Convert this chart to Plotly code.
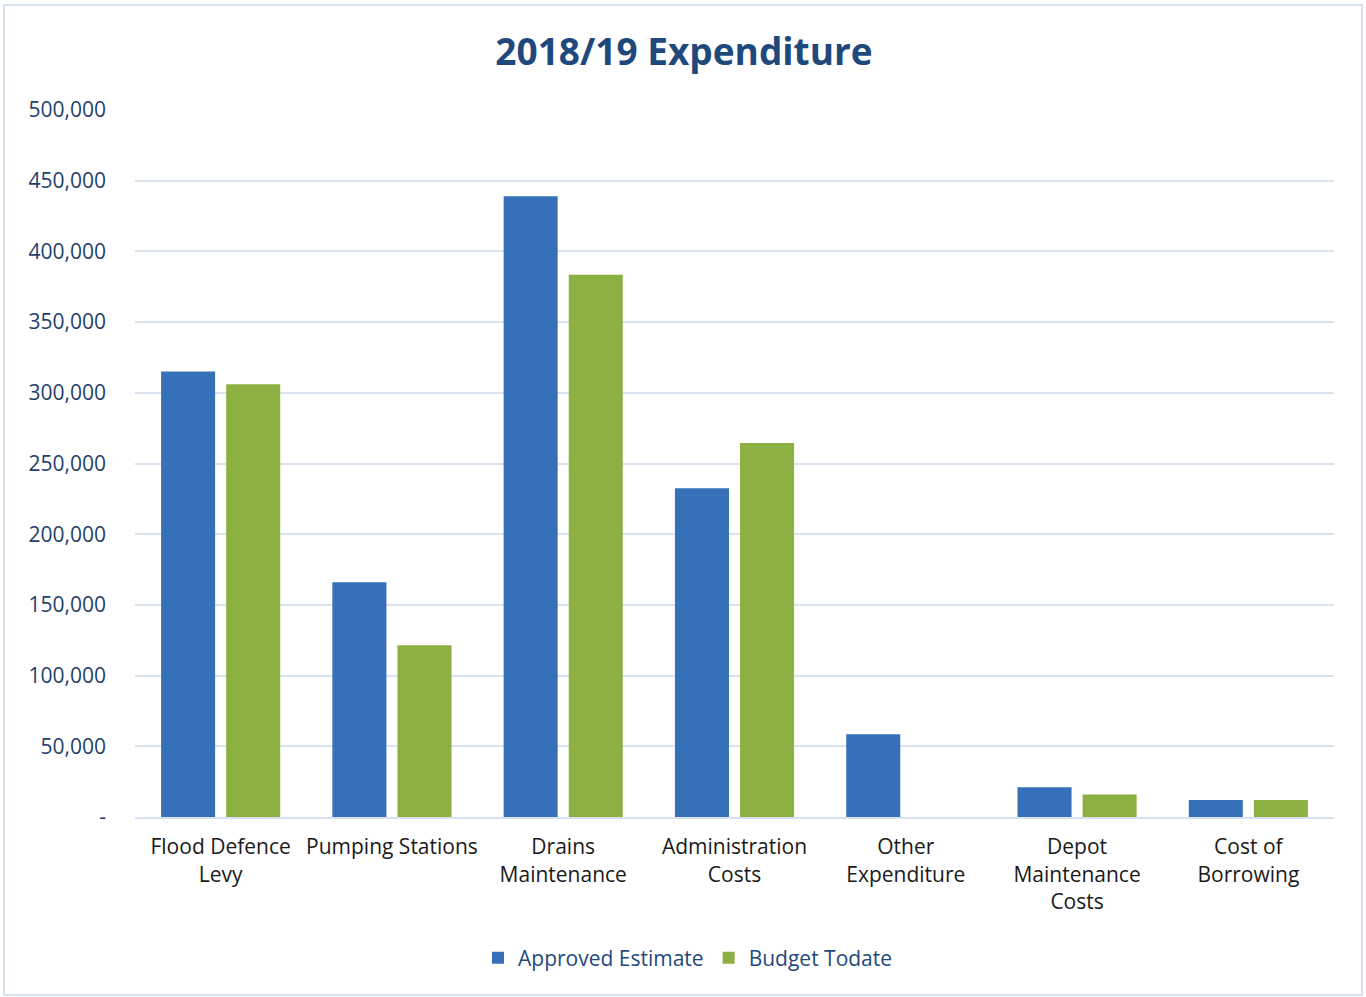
import plotly.graph_objects as go

categories = ["Flood Defence<br>Levy", "Pumping Stations", "Drains<br>Maintenance",
              "Administration<br>Costs", "Other<br>Expenditure", "Depot<br>Maintenance<br>Costs",
              "Cost of<br>Borrowing"]
approved_estimate = [315000, 166000, 439000, 232500, 58500, 21000, 12000]
budget_todate = [306000, 121500, 383500, 264500, 0, 16000, 12000]
tick_vals = [0, 50000, 100000, 150000, 200000, 250000, 300000, 350000, 400000, 450000, 500000]
tick_text = ["-", "50,000", "100,000", "150,000", "200,000", "250,000", "300,000",
             "350,000", "400,000", "450,000", "500,000"]

FONT = "Open Sans, Noto Sans, sans-serif"

fig = go.Figure()
fig.add_trace(go.Bar(name="Approved Estimate", x=categories, y=approved_estimate,
                     marker=dict(color="#3570b9", line=dict(width=0))))
fig.add_trace(go.Bar(name="Budget Todate", x=categories, y=budget_todate,
                     marker=dict(color="#8db042", line=dict(width=0))))

# chart border
px0, px1, py0, py1 = 135, 1334, 817, 110
def fx(p): return (p - px0) / (px1 - px0)
def fy(p): return (py0 - p) / (py0 - py1)
fig.add_shape(type="rect", xref="paper", yref="paper",
              x0=fx(4), x1=fx(1362), y0=fy(995), y1=fy(5),
              line=dict(color="#d6e2f2", width=2), fillcolor="rgba(0,0,0,0)", layer="below")

fig.update_layout(
    width=1366, height=997,
    margin=dict(l=135, r=32, t=110, b=180),
    paper_bgcolor="white", plot_bgcolor="white",
    barmode="group", bargap=0.24, bargroupgap=0.17,
    title=dict(text="<b>2018/19 Expenditure</b>", x=fx(684), xref="paper", xanchor="center",
               y=0.948, yanchor="middle",
               font=dict(family=FONT, size=37, color="#1f497d")),
    font=dict(family=FONT),
    legend=dict(orientation="h", x=fx(688), xanchor="center", y=fy(958), yanchor="middle",
                font=dict(size=21, color="#1f497d"), itemwidth=30, traceorder="normal"),
    xaxis=dict(tickfont=dict(size=21, color="#1a1a1a"), showline=True, linecolor="#d6e2f2",
               linewidth=2, ticks="", showgrid=False, ticklabelstandoff=10),
    yaxis=dict(range=[0, 500000], tickvals=tick_vals, ticktext=tick_text,
               tickfont=dict(size=21, color="#1f3f6e"), gridcolor="#d9e3f0", gridwidth=2,
               zeroline=False, ticks="", ticklabelstandoff=28),
    showlegend=True,
)

fig.write_html("out.html")
